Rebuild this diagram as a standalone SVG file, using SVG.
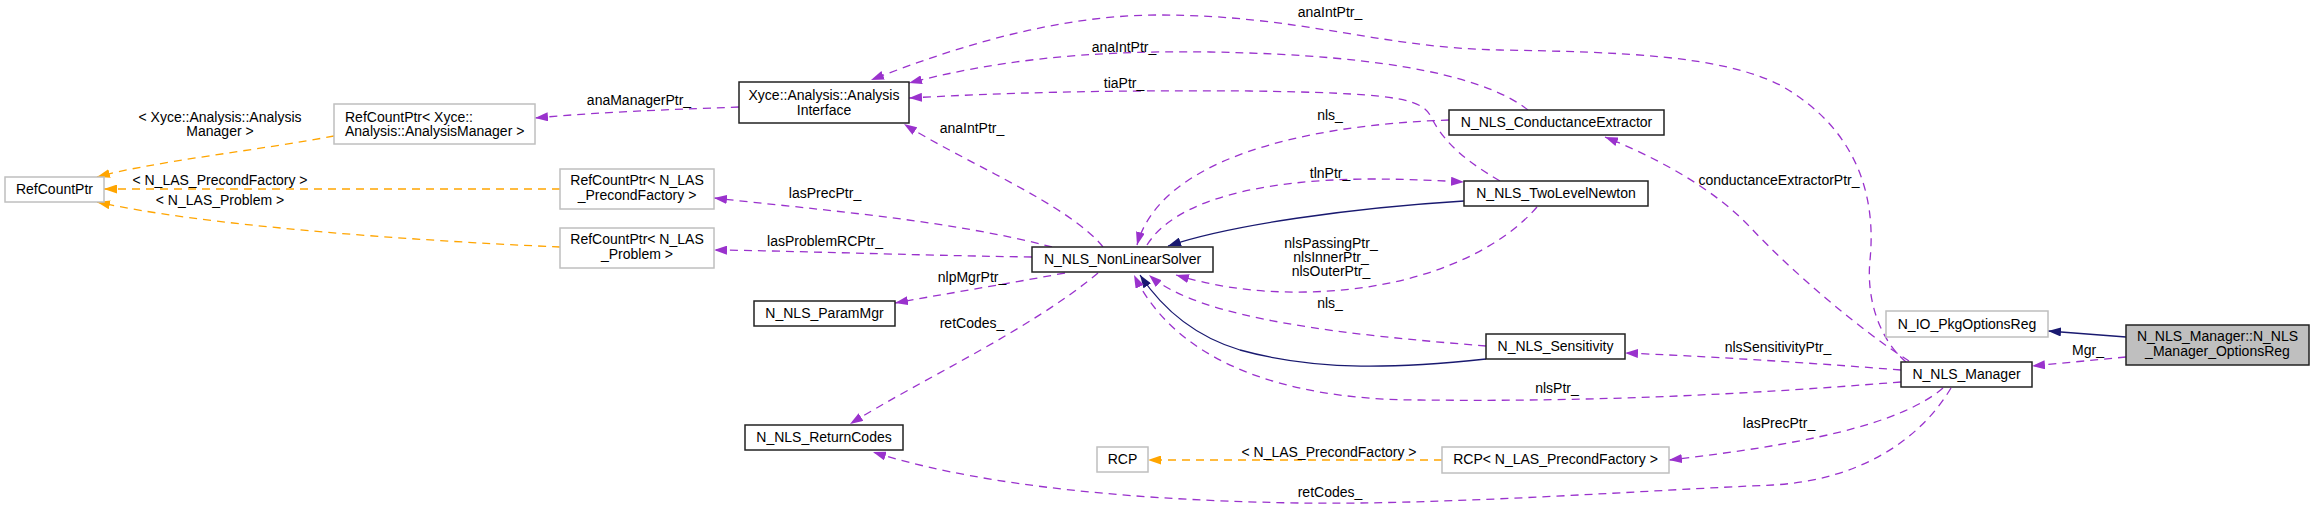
<svg xmlns="http://www.w3.org/2000/svg" width="2315" height="510" viewBox="0 0 2315 510">
<style>
text{font-family:"Liberation Sans",Arial,sans-serif;font-size:14px;fill:#000}
.c{text-anchor:middle}
.nb{fill:#fff;stroke:#222;stroke-width:1.5}
.ng{fill:#fff;stroke:#bfbfbf;stroke-width:1.5}
.nm{fill:#bfbfbf;stroke:#222;stroke-width:1.5}
.p{fill:none;stroke:#9a32cd;stroke-width:1.3;stroke-dasharray:8,6;marker-end:url(#ap)}
.o{fill:none;stroke:#ffa500;stroke-width:1.3;stroke-dasharray:8,6;marker-end:url(#ao)}
.n{fill:none;stroke:#191970;stroke-width:1.3;marker-end:url(#an)}
</style>
<defs>
<marker id="ap" viewBox="0 0 13 9" refX="13" refY="4.5" markerWidth="13" markerHeight="9" markerUnits="userSpaceOnUse" orient="auto"><path d="M0,0 L13,4.5 L0,9 z" fill="#9a32cd"/></marker>
<marker id="ao" viewBox="0 0 13 9" refX="13" refY="4.5" markerWidth="13" markerHeight="9" markerUnits="userSpaceOnUse" orient="auto"><path d="M0,0 L13,4.5 L0,9 z" fill="#ffa500"/></marker>
<marker id="an" viewBox="0 0 13 9" refX="13" refY="4.5" markerWidth="13" markerHeight="9" markerUnits="userSpaceOnUse" orient="auto"><path d="M0,0 L13,4.5 L0,9 z" fill="#191970"/></marker>
</defs>
<rect width="2315" height="510" fill="#fff"/>
<g id="edges">
<path class="o" d="M334,136 C260,150 150,162 97,177"/>
<path class="o" d="M560,189 L104,189"/>
<path class="o" d="M560,247 C400,240 200,225 97,202"/>
<path class="p" d="M739,107 C660,110 600,112 535,118"/>
<path class="p" d="M1052,247 C950,220 820,210 714,198"/>
<path class="p" d="M1032,257 C900,255 800,251 714,250"/>
<path class="p" d="M1065,273 C1000,285 950,293 895,303"/>
<path class="p" d="M1098,273 C1030,330 920,380 850,424"/>
<path class="p" d="M1103,247 C1070,205 960,160 904,124"/>
<path class="p" d="M1528,110 C1490,80 1400,55 1210,52 C1080,50 990,62 909,83"/>
<path class="p" d="M1500,181 C1455,155 1440,135 1430,115 C1420,98 1390,93 1250,91 C1100,90 1000,93 909,98"/>
<path class="p" d="M1906,362 C1880,340 1866,300 1870,260 C1876,200 1860,130 1780,85 C1720,55 1620,52 1500,50 C1380,48 1300,15 1159,15 C1060,15 960,45 871,80"/>
<path class="p" d="M1449,120 C1300,125 1160,160 1137,245"/>
<path class="p" d="M1147,245 C1175,200 1260,180 1367,179 C1400,179 1430,180 1464,182"/>
<path class="n" d="M1464,201 C1350,208 1230,225 1168,246"/>
<path class="p" d="M1537,207 C1500,250 1420,290 1306,292 C1250,293 1210,285 1176,275"/>
<path class="p" d="M1486,346 C1350,335 1200,320 1149,275"/>
<path class="n" d="M1486,359 C1400,368 1320,372 1240,350 C1190,335 1160,305 1140,275"/>
<path class="p" d="M1901,382 C1750,394 1600,402 1420,400 C1300,400 1180,370 1134,275"/>
<path class="p" d="M1901,370 C1800,362 1700,356 1625,353"/>
<path class="p" d="M1909,361 C1860,330 1790,270 1750,227 C1710,185 1650,155 1605,137"/>
<path class="p" d="M1943,388 C1900,425 1800,445 1669,460"/>
<path class="p" d="M1951,388 C1920,440 1860,480 1773,485 C1650,490 1450,505 1300,503 C1100,500 960,480 873,452"/>
<path class="o" d="M1442,460 L1148,460"/>
<path class="n" d="M2126,337 L2048,331"/>
<path class="p" d="M2126,357 L2032,366"/>
</g>
<g id="edge-labels">
<text class="c" x="220" y="122">&lt; Xyce::Analysis::Analysis</text>
<text class="c" x="220" y="136">Manager &gt;</text>
<text class="c" x="639" y="105">anaManagerPtr_</text>
<text class="c" x="220" y="185">&lt; N_LAS_PrecondFactory &gt;</text>
<text class="c" x="220" y="205">&lt; N_LAS_Problem &gt;</text>
<text class="c" x="1330" y="17">anaIntPtr_</text>
<text class="c" x="1124" y="52">anaIntPtr_</text>
<text class="c" x="1124" y="88">tiaPtr_</text>
<text class="c" x="1330" y="120">nls_</text>
<text class="c" x="972" y="133">anaIntPtr_</text>
<text class="c" x="825" y="198">lasPrecPtr_</text>
<text class="c" x="825" y="246">lasProblemRCPtr_</text>
<text class="c" x="1330" y="178">tlnPtr_</text>
<text class="c" x="1331" y="248">nlsPassingPtr_</text>
<text class="c" x="1331" y="262">nlsInnerPtr_</text>
<text class="c" x="1331" y="276">nlsOuterPtr_</text>
<text class="c" x="972" y="282">nlpMgrPtr_</text>
<text class="c" x="972" y="328">retCodes_</text>
<text class="c" x="1330" y="308">nls_</text>
<text class="c" x="1779" y="185">conductanceExtractorPtr_</text>
<text class="c" x="1778" y="352">nlsSensitivityPtr_</text>
<text class="c" x="2088" y="355">Mgr_</text>
<text class="c" x="1557" y="393">nlsPtr_</text>
<text class="c" x="1779" y="428">lasPrecPtr_</text>
<text class="c" x="1329" y="457">&lt; N_LAS_PrecondFactory &gt;</text>
<text class="c" x="1330" y="497">retCodes_</text>
</g>
<g id="RefCountPtr"><rect class="ng" x="5" y="177" width="99" height="25"/><text class="c" x="54.5" y="194">RefCountPtr</text></g>
<g id="RCP_AnalysisManager"><rect class="ng" x="334" y="104" width="201" height="40"/><text x="345" y="122">RefCountPtr&lt; Xyce::</text><text x="345" y="136">Analysis::AnalysisManager &gt;</text></g>
<g id="RCP_PrecondFactory"><rect class="ng" x="560" y="169" width="154" height="40"/><text class="c" x="637" y="185">RefCountPtr&lt; N_LAS</text><text class="c" x="637" y="200">_PrecondFactory &gt;</text></g>
<g id="RCP_Problem"><rect class="ng" x="560" y="228" width="154" height="40"/><text class="c" x="637" y="244">RefCountPtr&lt; N_LAS</text><text class="c" x="637" y="259">_Problem &gt;</text></g>
<g id="AnalysisInterface"><rect class="nb" x="739" y="82" width="170" height="41"/><text class="c" x="824" y="100">Xyce::Analysis::Analysis</text><text class="c" x="824" y="115">Interface</text></g>
<g id="NonLinearSolver"><rect class="nb" x="1032" y="247" width="181" height="25"/><text class="c" x="1122.5" y="264">N_NLS_NonLinearSolver</text></g>
<g id="ParamMgr"><rect class="nb" x="754" y="301" width="141" height="25"/><text class="c" x="824.5" y="318">N_NLS_ParamMgr</text></g>
<g id="ReturnCodes"><rect class="nb" x="745" y="425" width="158" height="25"/><text class="c" x="824" y="442">N_NLS_ReturnCodes</text></g>
<g id="RCP"><rect class="ng" x="1097" y="447" width="51" height="25"/><text class="c" x="1122.5" y="464">RCP</text></g>
<g id="RCP_N_LAS_PrecondFactory"><rect class="ng" x="1442" y="447" width="227" height="26"/><text class="c" x="1555.5" y="464">RCP&lt; N_LAS_PrecondFactory &gt;</text></g>
<g id="ConductanceExtractor"><rect class="nb" x="1449" y="110" width="215" height="25"/><text class="c" x="1556.5" y="127">N_NLS_ConductanceExtractor</text></g>
<g id="TwoLevelNewton"><rect class="nb" x="1464" y="181" width="184" height="25"/><text class="c" x="1556" y="198">N_NLS_TwoLevelNewton</text></g>
<g id="Sensitivity"><rect class="nb" x="1486" y="334" width="139" height="25"/><text class="c" x="1555.5" y="351">N_NLS_Sensitivity</text></g>
<g id="Manager"><rect class="nb" x="1901" y="362" width="131" height="25"/><text class="c" x="1966.5" y="379">N_NLS_Manager</text></g>
<g id="PkgOptionsReg"><rect class="ng" x="1886" y="311" width="162" height="26"/><text class="c" x="1967" y="329">N_IO_PkgOptionsReg</text></g>
<g id="Manager_OptionsReg"><rect class="nm" x="2126" y="325" width="183" height="40"/><text class="c" x="2217.5" y="341">N_NLS_Manager::N_NLS</text><text class="c" x="2217.5" y="356">_Manager_OptionsReg</text></g>
</svg>
